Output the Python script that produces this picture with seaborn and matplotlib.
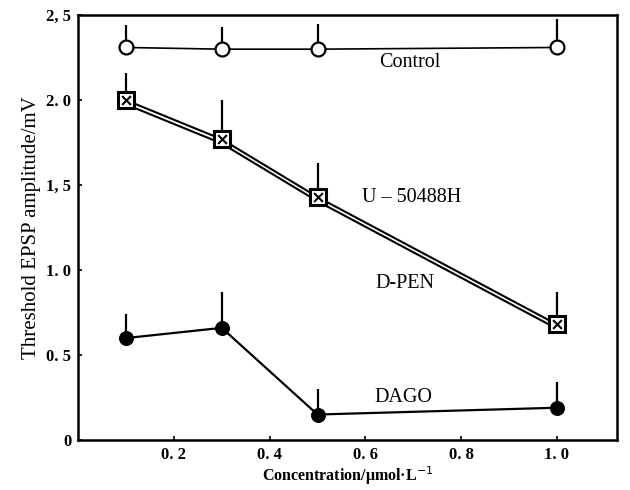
import numpy as np
import pandas as pd
import seaborn as sns
import matplotlib.pyplot as plt

conc = [0.1, 0.3, 0.5, 1.0]
control = [2.31, 2.30, 2.30, 2.31]
control_err = [0.13, 0.13, 0.15, 0.17]
u50488h = [2.00, 1.77, 1.43, 0.68]
u50488h_err = [0.16, 0.23, 0.20, 0.19]
dpen = [1.975, 1.745, 1.405, 0.655]
dago = [0.60, 0.66, 0.15, 0.19]
dago_err = [0.14, 0.21, 0.15, 0.15]
xticks = [0.2, 0.4, 0.6, 0.8, 1.0]
xticklabels = ["0. 2", "0. 4", "0. 6", "0. 8", "1. 0"]
yticks = [0, 0.5, 1.0, 1.5, 2.0, 2.5]
yticklabels = ["0", "0. 5", "1. 0", "1, 5", "2. 0", "2, 5"]

sns.set_style("ticks", {"axes.edgecolor": "black", "text.color": "black",
                        "xtick.color": "black", "ytick.color": "black",
                        "axes.labelcolor": "black"})
plt.rcParams["font.family"] = ["Liberation Serif", "DejaVu Serif"]

df = pd.DataFrame({"conc": conc, "control": control, "u50488h": u50488h,
                   "dpen": dpen, "dago": dago})

fig = plt.figure(figsize=(6.3, 4.9), dpi=100)
ax = fig.add_axes([0.124, 0.102, 0.855, 0.867])

# error bars (upper only)
for y, e in [(control, control_err), (u50488h, u50488h_err), (dago, dago_err)]:
    ax.errorbar(conc, y, yerr=[np.zeros(len(e)), e], fmt="none", ecolor="black",
                elinewidth=1.6, capsize=0, zorder=2)

sns.lineplot(data=df, x="conc", y="control", ax=ax, color="black", lw=1.2,
             marker="o", markersize=10, markerfacecolor="white",
             markeredgecolor="black", markeredgewidth=1.6, zorder=4)
sns.lineplot(data=df, x="conc", y="dpen", ax=ax, color="black", lw=1.5, zorder=3)
sns.lineplot(data=df, x="conc", y="u50488h", ax=ax, color="black", lw=1.5,
             marker="s", markersize=11, markerfacecolor="white",
             markeredgecolor="black", markeredgewidth=2.2, zorder=4)
ax.scatter(conc, u50488h, marker="x", s=40, color="black", linewidths=1.5, zorder=5)
sns.lineplot(data=df, x="conc", y="dago", ax=ax, color="black", lw=1.6,
             marker="o", markersize=10, markerfacecolor="black",
             markeredgecolor="black", zorder=4)

ax.text(0.692, 2.22, "Control", ha="center", va="center", fontsize=14.5)
ax.text(0.696, 1.43, "U – 50488H", ha="center", va="center", fontsize=14.5)
ax.text(0.683, 0.92, "D-PEN", ha="center", va="center", fontsize=14.5)
ax.text(0.680, 0.25, "DAGO", ha="center", va="center", fontsize=14.5)

ax.set_xlim(0, 1.125)
ax.set_ylim(0, 2.5)
ax.set_xticks(xticks)
ax.set_xticklabels(xticklabels, fontweight="bold", fontsize=12)
ax.set_yticks(yticks)
ax.set_yticklabels(yticklabels, fontweight="bold", fontsize=12)
ax.tick_params(direction="in", length=3, width=1.2, pad=5)
for s in ax.spines.values():
    s.set_linewidth(1.8)
ax.set_xlabel("Concentration/μmol·L$^{-1}$", fontsize=11.5, fontweight="bold", labelpad=1)
ax.set_ylabel("Threshold EPSP amplitude/mV", fontsize=15, labelpad=4)

plt.savefig("out.png", dpi=100)
